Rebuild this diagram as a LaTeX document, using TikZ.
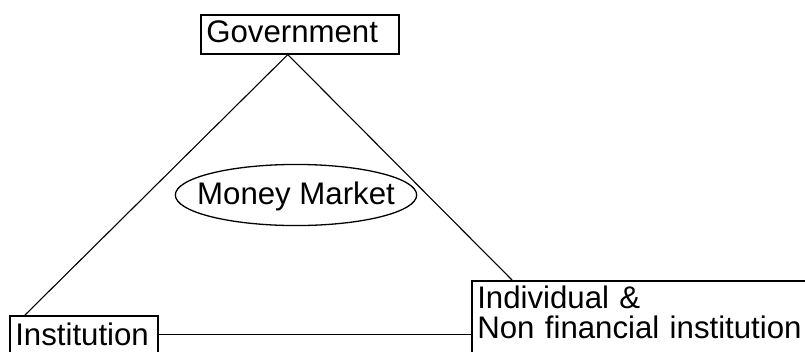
\documentclass[tikz,border=0pt]{standalone}
\usepackage{fontspec}
\setmainfont{Liberation Sans}
\usetikzlibrary{shapes.geometric}

\begin{document}
\begin{tikzpicture}[x=1pt,y=-1pt,font=\fontsize{31.2}{30}\selectfont,
    party/.style={draw,line width=1.6pt,anchor=north west,inner xsep=5.5pt,inner ysep=0pt,align=left},
    link/.style={line width=1.1pt}]
    \useasboundingbox (0,0) rectangle (805,351);
    \clip (0,0) rectangle (805,351);
    %market in the middle
    \node[draw,ellipse,line width=1.3pt,text height=24pt,text depth=6pt,inner xsep=-13.5pt,inner ysep=6.6pt] (mm) at (296,195) {Money Market};
    %the three parties
    \node[party,text width=187pt,text height=28pt,text depth=11pt] (gov) at (200,14) {Government};
    \node[party,text width=137pt,text height=30pt,text depth=8pt] (inst) at (9,315) {Institution};
    \node[party,text width=340pt,text height=28pt,text depth=50pt] (indiv) at (471,280) {Individual \&\\Non financial institution};
    %links between them
    \draw[link] ([xshift=-12pt]gov.south) -- ([xshift=16pt]inst.north west);
    \draw[link] ([xshift=-12pt]gov.south) -- ([xshift=41pt]indiv.north west);
    \draw[link] (inst.east) -- (inst.east -| indiv.west);
\end{tikzpicture}
\end{document}
